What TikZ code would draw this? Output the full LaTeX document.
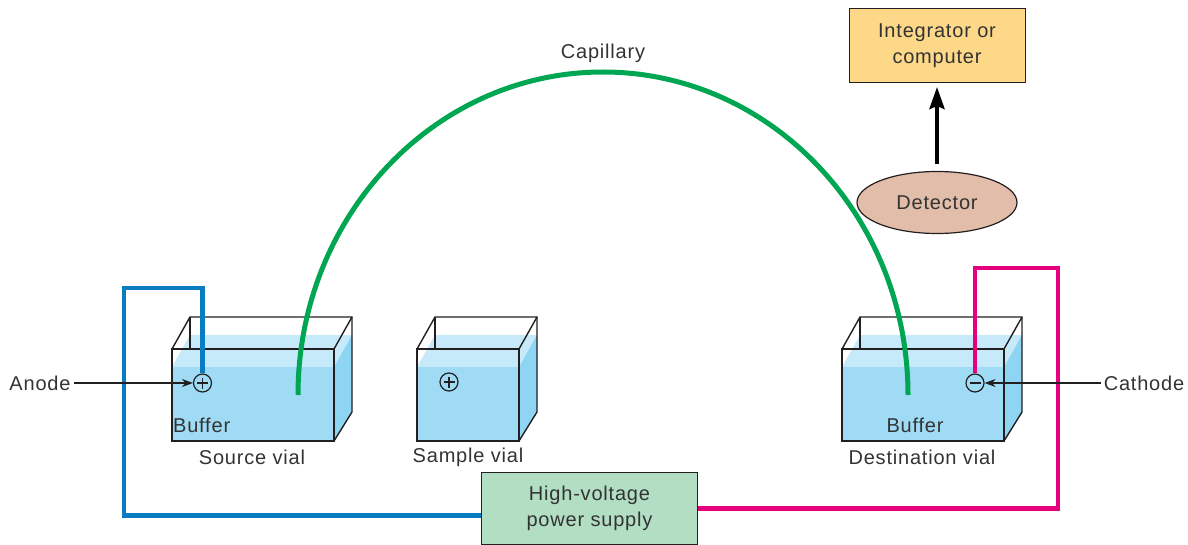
\documentclass[tikz,border=0pt]{standalone}
\usepackage{fontspec}
\setmainfont{Liberation Sans}[LetterSpace=4]
\usetikzlibrary{arrows.meta,shapes.geometric}

\definecolor{txt}{RGB}{51,51,51}
\definecolor{edge}{RGB}{35,31,32}
\definecolor{wireblue}{RGB}{10,125,193}
\definecolor{wirepink}{RGB}{230,0,126}
\definecolor{capgreen}{RGB}{0,166,81}
\definecolor{liqfront}{RGB}{159,219,245}
\definecolor{liqtop}{RGB}{198,234,249}
\definecolor{liqside}{RGB}{142,212,243}
\definecolor{intfill}{RGB}{253,216,136}
\definecolor{detfill}{RGB}{226,189,169}
\definecolor{hvfill}{RGB}{178,222,196}

\tikzset{
  lbl/.style={font=\fontsize{20}{26}\selectfont, text=txt, inner sep=0pt},
  glass/.style={draw=edge, line width=1.4pt, line join=miter},
  pole/.style={circle, draw=edge, line width=1.2pt, minimum size=18pt, inner sep=0pt},
  blueline/.style={draw=wireblue, line width=4.5pt},
  pinkline/.style={draw=wirepink, line width=4.5pt},
  capline/.style={draw=capgreen, line width=5pt},
  pointer/.style={draw=edge, line width=1.2pt, -{Stealth[length=11pt,width=8pt]}},
  bigarrow/.style={draw=black, line width=4pt, -{Stealth[length=22pt,width=15pt,inset=3pt]}},
  infobox/.style={lbl, draw=edge, line width=1pt, align=center},
}

% one open-topped vial with its buffer, front face from x=#1 to x=#2
\newcommand\drawvial[2]{%
  \fill[liqtop] (#1,367) -- (#2,367) -- (#2+18,335) -- (#1+18,335) -- cycle;
  \fill[liqfront] (#1,367) rectangle (#2,441);
  \fill[liqside] (#2,367) -- (#2+18,335) -- (#2+18,412) -- (#2,441) -- cycle;
  \draw[glass] (#1,349) rectangle (#2,441);
  \draw[glass] (#1,349) -- (#1+18,317) -- (#2+18,317) -- (#2+18,412) -- (#2,441);
  \draw[glass] (#1+18,317) -- (#1+18,349);
  \draw[glass] (#2,349) -- (#2+18,317);
}

\begin{document}
\begin{tikzpicture}[x=1pt,y=-1pt]
\useasboundingbox (0,0) rectangle (1188,545);

% vials
\drawvial{172}{334}
\drawvial{417}{519}
\drawvial{842}{1004}

% electrodes
\node[pole] (anode) at (202.5,383) {};
\draw[edge, line width=1.2pt] ([xshift=-5.5pt]anode.center) -- ([xshift=5.5pt]anode.center)
  ([yshift=-5.5pt]anode.center) -- ([yshift=5.5pt]anode.center);
\node[pole] (samplepole) at (449,382) {};
\draw[edge, line width=1.2pt] ([xshift=-5.5pt]samplepole.center) -- ([xshift=5.5pt]samplepole.center)
  ([yshift=-5.5pt]samplepole.center) -- ([yshift=5.5pt]samplepole.center);
\node[pole] (cathode) at (975,383) {};
\draw[edge, line width=1.2pt] ([xshift=-5.5pt]cathode.center) -- ([xshift=5.5pt]cathode.center);

% vial labels
\node[lbl, anchor=west] (srcbuf) at (173,425) {Buffer};
\node[lbl] (dstbuf) at (915,425) {Buffer};
\node[lbl] (srclbl) at (252,457) {Source vial};
\node[lbl] (smplbl) at (468,457) {Sample vial};
\node[lbl] (dstlbl) at (922,457) {Destination vial};

% instruments
\node[infobox, fill=hvfill, minimum width=216pt, minimum height=72pt] (hv) at (589.5,508.5)
  {High-voltage\\power supply};
\node[infobox, fill=intfill, minimum width=176pt, minimum height=74pt] (integrator) at (937,45.5)
  {Integrator or\\computer};
\node[lbl, ellipse, draw=edge, line width=1.2pt, fill=detfill,
      minimum width=160pt, minimum height=62pt] (detector) at (937,202.5) {Detector};

% electrode leads
\coordinate (bluecorner) at (124,288);
\coordinate (pinkcorner) at (1058,268);
\draw[blueline] (anode.north) |- (bluecorner) |- ([yshift=-7pt]hv.west);
\draw[pinkline] (cathode.north) |- (pinkcorner) |- (hv.east);

% capillary from source vial to destination vial
\coordinate (capin) at (298,395);
\coordinate (capout) at (908,395);
\draw[capline] (capin) arc[start angle=180, end angle=360, x radius=305, y radius=323];
\node[lbl] (caplbl) at (603,53) {Capillary};

% detector signal
\draw[bigarrow, shorten <=7pt, shorten >=4pt] (detector.north) -- (integrator.south);

% electrode callouts
\node[lbl] (anodelbl) at (40,383) {Anode};
\node[lbl] (cathodelbl) at (1144,383) {Cathode};
\draw[pointer] ([xshift=3pt]anodelbl.east) -- (anode.west);
\draw[pointer] ([xshift=-3pt]cathodelbl.west) -- (cathode.east);
\end{tikzpicture}
\end{document}
